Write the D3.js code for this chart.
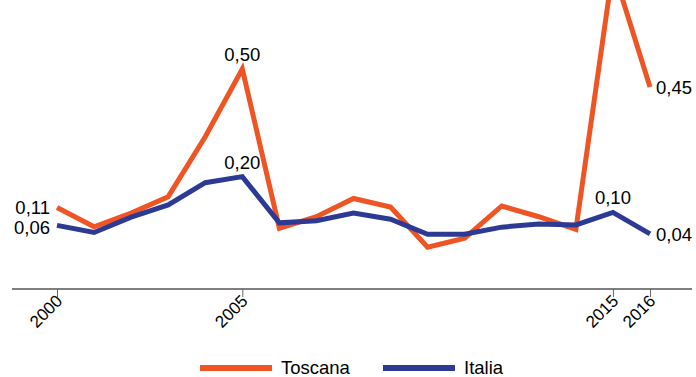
<!DOCTYPE html>
<html><head><meta charset="utf-8">
<script src="https://cdn.jsdelivr.net/npm/d3@7"></script>
<style>
html,body{margin:0;padding:0;background:#fff;}
svg{display:block;font-family:"Liberation Sans",Arial,sans-serif;}
</style></head>
<body>
<svg id="c" width="696" height="377"></svg>
<script>
const years = [2000,2001,2002,2003,2004,2005,2006,2007,2008,2009,2010,2011,2012,2013,2014,2015,2016];
const toscana = [0.114,0.060,0.098,0.144,0.311,0.50,0.056,0.088,0.139,0.115,0.003,0.028,0.118,0.088,0.053,0.78,0.45];
const italia  = [0.064,0.044,0.087,0.121,0.183,0.20,0.071,0.077,0.098,0.081,0.039,0.039,0.059,0.068,0.065,0.10,0.04];
const tickYears = [2000,2005,2015,2016];
const seriesNames = ["Toscana","Italia"];
const colors = ["#ee5424","#2d3a93"];

const svg = d3.select("#c");
const x = d3.scaleLinear().domain([2000,2016]).range([57,650]);
const y = d3.scaleLinear().domain([0,0.5]).range([248.3,69]);

// axis
const axisY = 289;
svg.append("line").attr("x1",12).attr("x2",692).attr("y1",axisY).attr("y2",axisY)
  .attr("stroke","#000").attr("stroke-width",1.2);
const axis = d3.axisBottom(x).tickValues(tickYears).tickFormat(d3.format("d")).tickSize(8).tickSizeOuter(0);
const ag = svg.append("g").attr("transform",`translate(0,${axisY})`).call(axis);
ag.select(".domain").remove();
ag.selectAll(".tick line").attr("stroke","#666");
ag.selectAll(".tick text")
  .attr("font-size",17).attr("fill","#000")
  .attr("text-anchor","end")
  .attr("dy",null).attr("y",null)
  .attr("transform","translate(6,13) rotate(-45)");

const data = [toscana, italia];
const line = d3.line().x((d,i)=>x(years[i])).y(d=>y(d));
data.forEach((s,k)=>{
  svg.append("path").datum(s).attr("d",line).attr("fill","none")
    .attr("stroke",colors[k]).attr("stroke-width",5).attr("stroke-linejoin","miter");
});

// value labels
const fmt = v => d3.format(".2f")(v).replace(".",",");
const labels = [
  {s:0,i:0,anchor:"end",dx:-7,dy:7},
  {s:1,i:0,anchor:"end",dx:-7,dy:9},
  {s:0,i:5,anchor:"middle",dx:0,dy:-8},
  {s:1,i:5,anchor:"middle",dx:0,dy:-8},
  {s:1,i:15,anchor:"middle",dx:0,dy:-8},
  {s:0,i:16,anchor:"start",dx:6,dy:7},
  {s:1,i:16,anchor:"start",dx:6,dy:7}
];
labels.forEach(l=>{
  const v = data[l.s][l.i];
  svg.append("text").attr("x",x(years[l.i])+l.dx).attr("y",y(v)+l.dy)
    .attr("text-anchor",l.anchor).attr("font-size",18.5).attr("fill","#000")
    .text(fmt(v));
});

// legend
const leg = [{x:200,t:seriesNames[0],c:colors[0]},{x:383,t:seriesNames[1],c:colors[1]}];
leg.forEach(l=>{
  svg.append("line").attr("x1",l.x).attr("x2",l.x+72).attr("y1",368).attr("y2",368)
    .attr("stroke",l.c).attr("stroke-width",6);
  svg.append("text").attr("x",l.x+81).attr("y",374).attr("font-size",18.5).attr("fill","#000").text(l.t);
});
</script>
</body></html>
